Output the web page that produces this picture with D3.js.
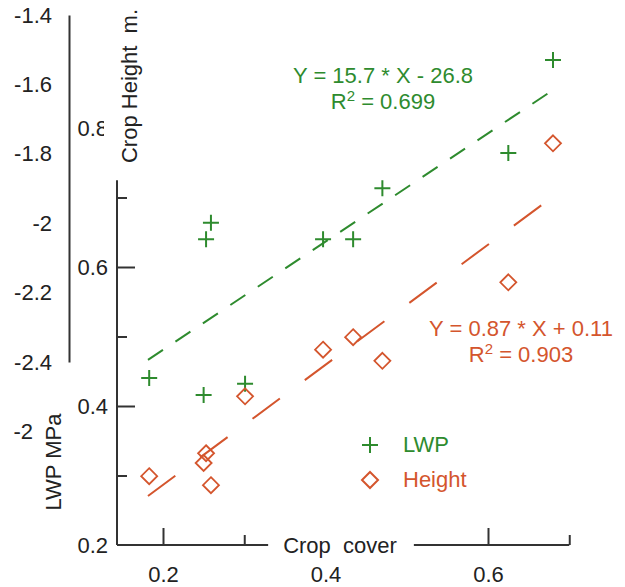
<!DOCTYPE html>
<html>
<head>
<meta charset="utf-8">
<script src="https://cdn.jsdelivr.net/npm/d3@7"></script>
<style>
  body { margin: 0; background: #fff; }
  svg { display: block; font-family: "Liberation Sans", Arial, sans-serif; }
</style>
</head>
<body>
<div id="chart"></div>
<script>
// Data
const cover = [0.183, 0.250, 0.253, 0.259, 0.301, 0.397, 0.434, 0.470, 0.625, 0.680];
const lwp = [-2.446, -2.495, -2.046, -1.999, -2.463, -2.046, -2.046, -1.899, -1.798, -1.530];
const cropHeight = [0.299, 0.318, 0.332, 0.286, 0.414, 0.481, 0.499, 0.465, 0.578, 0.778];

// regression line end points
const fitCover = [0.1815, 0.6763];
const lwpFit = [-2.394, -1.622];
const heightFit = [0.2705, 0.698];

const lwpTicks = [-1.4, -1.6, -1.8, -2.0, -2.2, -2.4, -2.6];
const lwpTickLabels = ['-1.4', '-1.6', '-1.8', '-2', '-2.2', '-2.4', '-2'];
const heightMajor = [0.2, 0.4, 0.6, 0.8];
const heightMinor = [0.3, 0.5, 0.7];
const coverMajor = [0.2, 0.4, 0.6];
const coverMinor = [0.3, 0.7];

const green = '#2e8b2e', red = '#d4552d', axisColor = '#333';

const width = 625, height = 587;
const innerLeft = 117, plotBottom = 545, lwpAxisX = 69;

const svg = d3.select('#chart')
  .append('svg')
  .attr('width', width)
  .attr('height', height);

// scales
const x = d3.scaleLinear().domain([0.2, 0.6]).range([163, 488]);
const yL = d3.scaleLinear().domain([-1.4, -2.4]).range([15, 362]);
const yH = d3.scaleLinear().domain([0.2, 0.6]).range([plotBottom, 267]);

const styleAxis = g => {
  g.attr('font-family', null).attr('font-size', null);
  g.selectAll('line').attr('stroke', axisColor).attr('stroke-width', 2);
  g.selectAll('text').attr('font-size', 22).attr('fill', '#222');
};

// LWP axis (far left, no ticks)
const lwpAxis = svg.append('g')
  .attr('transform', `translate(${lwpAxisX},0)`)
  .call(d3.axisLeft(yL).tickValues(lwpTicks).tickSize(0).tickPadding(17)
    .tickFormat((d, i) => lwpTickLabels[i]));
lwpAxis.select('.domain').attr('stroke', axisColor).attr('stroke-width', 2);
styleAxis(lwpAxis);
// last label sits left of the "LWP MPa" title
lwpAxis.selectAll('.tick text').filter(d => d === -2.6).attr('x', -36);

// Crop height axis
const hAxis = svg.append('g')
  .attr('transform', `translate(${innerLeft},0)`)
  .call(d3.axisLeft(yH).tickValues(heightMajor).tickSizeInner(-18).tickSizeOuter(0).tickPadding(9)
    .tickFormat(d3.format('.1f')));
hAxis.select('.domain').remove();
hAxis.selectAll('.tick line').filter(d => d === 0.8 || d === 0.2).remove();
styleAxis(hAxis);

const hMinor = svg.append('g')
  .attr('transform', `translate(${innerLeft},0)`)
  .call(d3.axisLeft(yH).tickValues(heightMinor).tickSizeInner(-10).tickSizeOuter(0).tickFormat(''));
hMinor.select('.domain').remove();
styleAxis(hMinor);

svg.append('line')
  .attr('x1', innerLeft).attr('x2', innerLeft)
  .attr('y1', yH(0.2)).attr('y2', yH(0.725))
  .attr('stroke', axisColor).attr('stroke-width', 2);

// Title for crop height, white box behind it clips the 0.8 label
svg.append('rect')
  .attr('x', 104).attr('y', 0).attr('width', 40).attr('height', 172)
  .attr('fill', '#fff');
svg.append('text')
  .attr('transform', 'translate(137,86) rotate(-90)')
  .attr('text-anchor', 'middle')
  .attr('font-size', 22)
  .attr('fill', '#222')
  .style('white-space', 'pre')
  .text('Crop Height  m.');

svg.append('text')
  .attr('transform', 'translate(61,462) rotate(-90)')
  .attr('text-anchor', 'middle')
  .attr('font-size', 22)
  .attr('fill', '#222')
  .text('LWP MPa');

// Crop cover axis (ticks point up)
const xAxis = svg.append('g')
  .attr('transform', `translate(0,${plotBottom})`)
  .call(d3.axisBottom(x).tickValues(coverMajor).tickSizeInner(-17).tickSizeOuter(0).tickPadding(21)
    .tickFormat(d3.format('.1f')));
xAxis.select('.domain').remove();
xAxis.selectAll('.tick line').filter(d => d === 0.4).remove();
styleAxis(xAxis);

const xMinor = svg.append('g')
  .attr('transform', `translate(0,${plotBottom})`)
  .call(d3.axisBottom(x).tickValues(coverMinor).tickSizeInner(-10).tickSizeOuter(0).tickFormat(''));
xMinor.select('.domain').remove();
styleAxis(xMinor);

// axis line broken around its title
const coverLabel = svg.append('text')
  .attr('x', 340).attr('y', plotBottom + 8)
  .attr('text-anchor', 'middle')
  .attr('font-size', 22)
  .attr('fill', '#222')
  .style('white-space', 'pre')
  .text('Crop  cover');
const lb = coverLabel.node().getBBox();
[[innerLeft, lb.x - 15], [lb.x + lb.width + 17, x(0.7)]].forEach(seg => {
  svg.append('line')
    .attr('x1', seg[0]).attr('x2', seg[1])
    .attr('y1', plotBottom).attr('y2', plotBottom)
    .attr('stroke', axisColor).attr('stroke-width', 2);
});

// regression lines
const line = d3.line();
svg.append('path')
  .attr('d', line(fitCover.map((c, i) => [x(c), yL(lwpFit[i])])))
  .attr('fill', 'none')
  .attr('stroke', green)
  .attr('stroke-width', 2)
  .attr('stroke-dasharray', '18,15');

svg.append('path')
  .attr('d', line(fitCover.map((c, i) => [x(c), yH(heightFit[i])])))
  .attr('fill', 'none')
  .attr('stroke', red)
  .attr('stroke-width', 2)
  .attr('stroke-dasharray', '34,31');

// markers
const plusPath = 'M-8,0H8M0,-8V8';
const diamondPath = 'M0,-8L8,0L0,8L-8,0Z';

svg.selectAll('.lwp')
  .data(cover)
  .enter()
  .append('path')
  .attr('class', 'lwp')
  .attr('d', plusPath)
  .attr('transform', (d, i) => `translate(${x(d)},${yL(lwp[i])})`)
  .attr('stroke', green)
  .attr('stroke-width', 2)
  .attr('fill', 'none');

svg.selectAll('.height')
  .data(cover)
  .enter()
  .append('path')
  .attr('class', 'height')
  .attr('d', diamondPath)
  .attr('transform', (d, i) => `translate(${x(d)},${yH(cropHeight[i])})`)
  .attr('stroke', red)
  .attr('stroke-width', 1.8)
  .attr('fill', 'none');

// equations
const eq = [
  {t: ['Y = 15.7 * X - 26.8', '0.699'], x: 383, y: 83, c: green},
  {t: ['Y = 0.87 * X + 0.11', '0.903'], x: 521, y: 336, c: red}
];
eq.forEach(e => {
  const g = svg.append('text')
    .attr('text-anchor', 'middle')
    .attr('font-size', 22)
    .attr('fill', e.c);
  g.append('tspan').attr('x', e.x).attr('y', e.y).text(e.t[0]);
  const r = g.append('tspan').attr('x', e.x).attr('y', e.y + 26);
  r.append('tspan').text('R');
  r.append('tspan').attr('font-size', 15).attr('dy', -8).text('2');
  r.append('tspan').attr('dy', 8).text(' = ' + e.t[1]);
});

// legend
const legend = [
  {name: 'LWP', path: plusPath, c: green, y: 445},
  {name: 'Height', path: diamondPath, c: red, y: 480}
];
legend.forEach(l => {
  svg.append('path')
    .attr('d', l.path)
    .attr('transform', `translate(370,${l.y})`)
    .attr('stroke', l.c)
    .attr('stroke-width', 2)
    .attr('fill', 'none');
  svg.append('text')
    .attr('x', 403).attr('y', l.y + 7)
    .attr('font-size', 22)
    .attr('fill', l.c)
    .text(l.name);
});
</script>
</body>
</html>
